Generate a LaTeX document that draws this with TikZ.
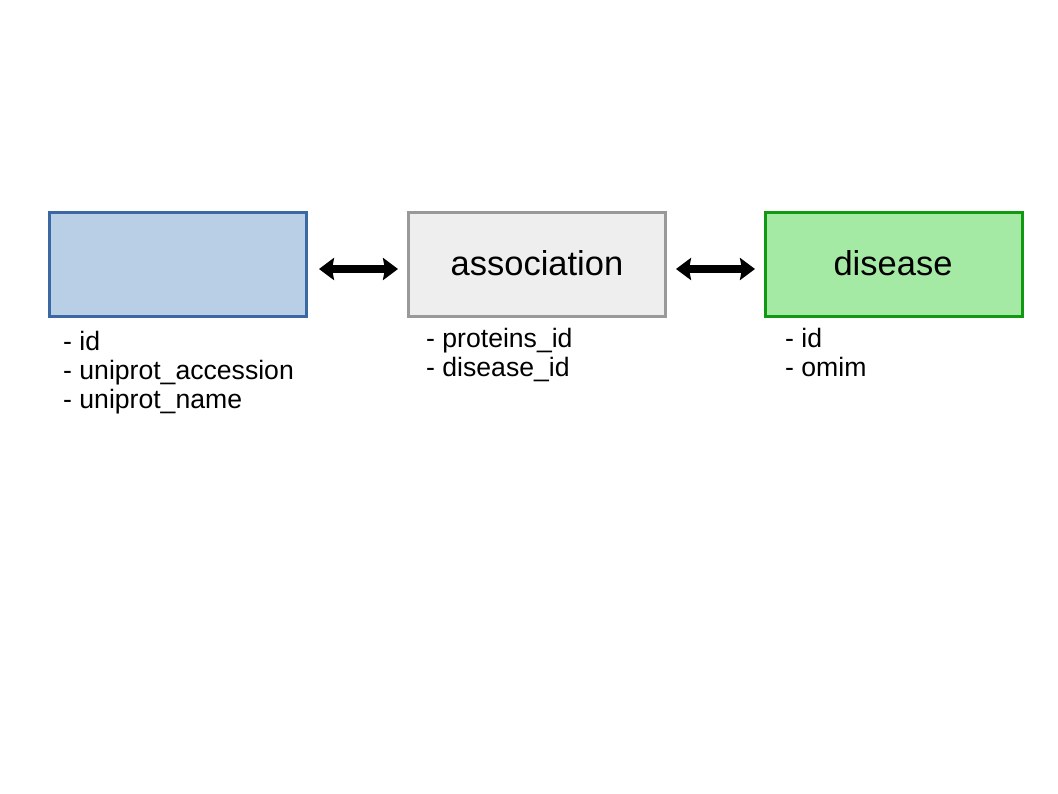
\documentclass[tikz,border=0pt]{standalone}
\usepackage{fontspec}
\setmainfont{Liberation Sans}
\usetikzlibrary{arrows.meta}
\definecolor{protfill}{HTML}{B9CFE5}
\definecolor{protdraw}{HTML}{3A68A2}
\definecolor{assfill}{HTML}{EEEEEE}
\definecolor{assdraw}{HTML}{999999}
\definecolor{disfill}{HTML}{A4EAA4}
\definecolor{disdraw}{HTML}{119A11}
\tikzset{
  tbl/.style={rectangle, line width=3pt, minimum width=257pt, minimum height=104pt, inner sep=0pt,
    font=\fontsize{34.5}{40}\selectfont},
  attr/.style={anchor=base west, inner sep=0pt, font=\fontsize{26.6}{29}\selectfont},
  tip/.style={Stealth[length=15pt 0, width=22pt 0, inset=2pt 0]},
  dbl/.style={line width=7.5pt, {Stealth[length=15pt 0, width=22pt 0, inset=2pt 0]}-{Stealth[length=15pt 0, width=22pt 0, inset=2pt 0]}}
}
\begin{document}
\begin{tikzpicture}[x=1pt,y=-1pt]
\useasboundingbox[fill=white] (0,0) rectangle (1058,794);
\node[tbl, fill=protfill, draw=protdraw] (prot) at (178,264.5) {};
\node[tbl, fill=assfill, draw=assdraw] (assoc) at (537,264.5) {};
\node[tbl, fill=disfill, draw=disdraw] (dis) at (894,264.5) {};
\node[anchor=base, inner sep=0pt, font=\fontsize{34.5}{40}\selectfont] (assoclbl) at (537,276) {association};
\node[anchor=base, inner sep=0pt, font=\fontsize{34.5}{40}\selectfont] (dislbl) at (893,276) {disease};
\draw[dbl] ([yshift=-4.5pt,xshift=11pt]prot.east) -- ([yshift=-4.5pt,xshift=-9pt]assoc.west);
\draw[dbl] ([yshift=-4.5pt,xshift=9pt]assoc.east) -- ([yshift=-4.5pt,xshift=-9pt]dis.west);
\node[attr] (p1) at (63,351) {- id};
\node[attr] (p2) at (63,380) {- uniprot\_accession};
\node[attr] (p3) at (63,409) {- uniprot\_name};
\node[attr] (a1) at (426,348) {- proteins\_id};
\node[attr] (a2) at (426,377) {- disease\_id};
\node[attr] (d1) at (785,348) {- id};
\node[attr] (d2) at (785,377) {- omim};
\end{tikzpicture}
\end{document}
